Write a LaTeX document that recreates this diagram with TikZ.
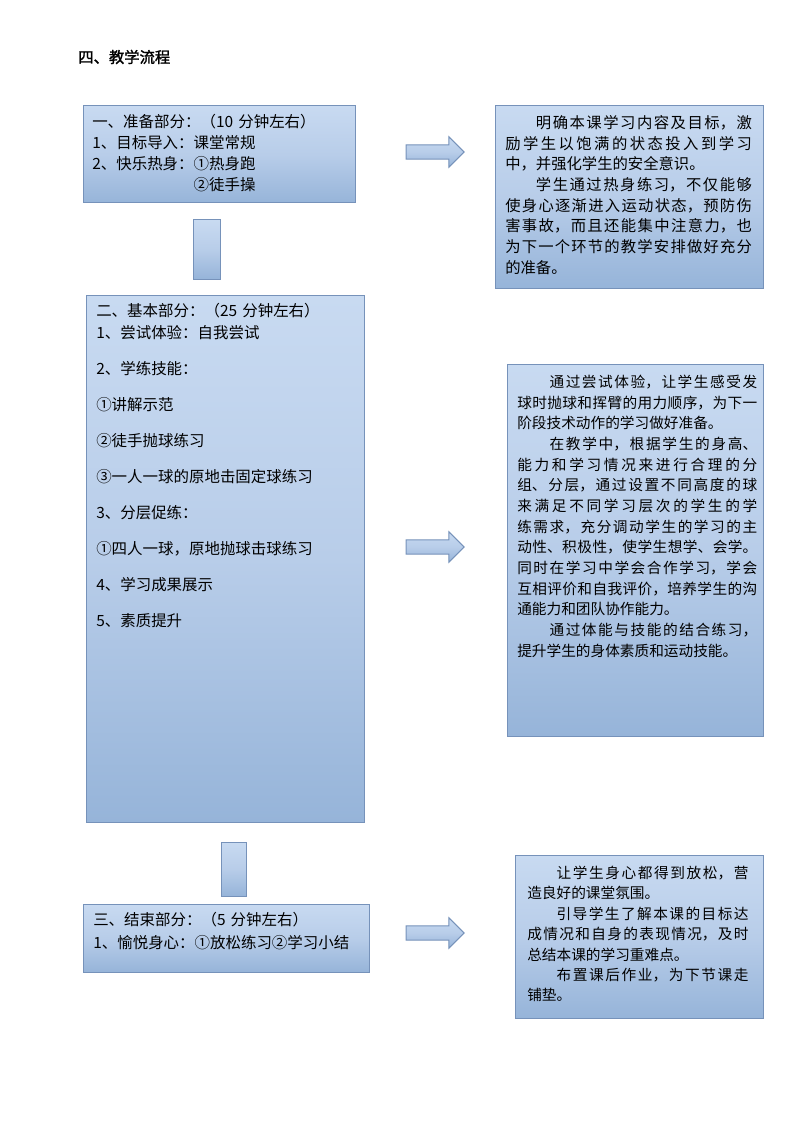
\documentclass[tikz,border=0pt]{standalone}
\usepackage{fontspec}
\usetikzlibrary{shapes.arrows,fit}
\newfontfamily\cjk{Noto Sans CJK SC}
\newfontfamily\cjkbold[FakeBold=1.5]{Noto Sans CJK SC}
\XeTeXlinebreaklocale "zh"
\XeTeXlinebreakskip=0pt plus 6pt
\XeTeXlinebreakpenalty=10000
\tolerance=10000
\hbadness=10000
\definecolor{bdr}{RGB}{118,146,186}
\definecolor{topc}{RGB}{200,218,241}
\definecolor{midc}{RGB}{184,205,233}
\definecolor{botc}{RGB}{150,180,217}
\tikzset{
  box/.style={draw=bdr, line width=0.75pt, top color=topc, bottom color=botc, middle color=midc, inner sep=0pt, rectangle},
  arr/.style={single arrow, draw=bdr, line width=0.75pt, top color=topc, bottom color=botc, middle color=midc,
     minimum height=43.5pt, inner xsep=0pt, inner ysep=5pt, single arrow head extend=6pt, single arrow tip angle=90},
  ltext/.style={anchor=base west, inner sep=0pt, align=left, text width=260pt, font=\cjk\fontsize{11.6}{16.5}\selectfont},
  rtext/.style={anchor=base west, inner sep=0pt, align=justify, text width=#1},
}
\begin{document}
\begin{tikzpicture}[x=0.75pt,y=-0.75pt]
\useasboundingbox (0,0) rectangle (794,1123);
% title
\node[anchor=west, inner sep=0pt, font=\cjkbold\fontsize{11.5}{14}\selectfont] (title) at (78,57) {四、教学流程};
% boxes
\node[box, fit={(83,106) (355,203)}] (L1) {};
\node[box, fit={(495,106) (763,288)}] (R1) {};
\node[box, fit={(193,220) (220,279)}] (C1) {};
\node[box, fit={(86,295) (364,822)}] (L2) {};
\node[box, fit={(507,364) (763,736)}] (R2) {};
\node[box, fit={(221,842) (246,896)}] (C2) {};
\node[box, fit={(83,904) (369,972)}] (L3) {};
\node[box, fit={(515,855) (763,1018)}] (R3) {};
% arrows
\node[arr] (A1) at (431.5,152) {};
\node[arr] (A2) at (431.5,547) {};
\node[arr] (A3) at (431.5,933) {};
% left texts
\node[ltext, font=\cjk\fontsize{11.6}{15.75}\selectfont] (t1) at (92,127.5) {一、准备部分：（10 分钟左右）\\1、目标导入：课堂常规\\2、快乐热身：①热身跑\\\phantom{2、快乐热身：}②徒手操};
\node[ltext] (t2) at (96,316.5) {二、基本部分：（25 分钟左右）\\1、尝试体验：自我尝试\\[10.5pt]2、学练技能：\\[10.5pt]①讲解示范\\[10.5pt]②徒手抛球练习\\[10.5pt]③一人一球的原地击固定球练习\\[10.5pt]3、分层促练：\\[10.5pt]①四人一球，原地抛球击球练习\\[10.5pt]4、学习成果展示\\[10.5pt]5、素质提升};
\node[ltext, font=\cjk\fontsize{11.6}{17.25}\selectfont] (t3) at (93,925.5) {三、结束部分：（5 分钟左右）\\1、愉悦身心：①放松练习②学习小结};
% right texts
\node[rtext=185pt, font=\cjk\fontsize{11.5}{15.5}\selectfont] (s1) at (505,128.5) {\hspace*{2em}明确本课学习内容及目标，激\linebreak 励学生以饱满的状态投入到学习\linebreak 中，并强化学生的安全意识。\\\hspace*{2em}学生通过热身练习，不仅能够\linebreak 使身心逐渐进入运动状态，预防伤\linebreak 害事故，而且还能集中注意力，也\linebreak 为下一个环节的教学安排做好充分\linebreak 的准备。};
\node[rtext=180pt, font=\cjk\fontsize{11}{15.5}\selectfont] (s2) at (517,387.5) {\hspace*{2.2em}通过尝试体验，让学生感受发\linebreak 球时抛球和挥臂的用力顺序，为下一\linebreak 阶段技术动作的学习做好准备。\\\hspace*{2.2em}在教学中，根据学生的身高、\linebreak 能力和学习情况来进行合理的分\linebreak 组、分层，通过设置不同高度的球\linebreak 来满足不同学习层次的学生的学\linebreak 练需求，充分调动学生的学习的主\linebreak 动性、积极性，使学生想学、会学。\linebreak 同时在学习中学会合作学习，学会\linebreak 互相评价和自我评价，培养学生的沟\linebreak 通能力和团队协作能力。\\\hspace*{2.2em}通过体能与技能的结合练习，\linebreak 提升学生的身体素质和运动技能。};
\node[rtext=166pt, font=\cjk\fontsize{11}{15.3}\selectfont] (s3) at (527,878.4) {\hspace*{2em}让学生身心都得到放松，营\linebreak 造良好的课堂氛围。\\\hspace*{2em}引导学生了解本课的目标达\linebreak 成情况和自身的表现情况，及时\linebreak 总结本课的学习重难点。\\\hspace*{2em}布置课后作业，为下节课走\linebreak 铺垫。};
\end{tikzpicture}
\end{document}
